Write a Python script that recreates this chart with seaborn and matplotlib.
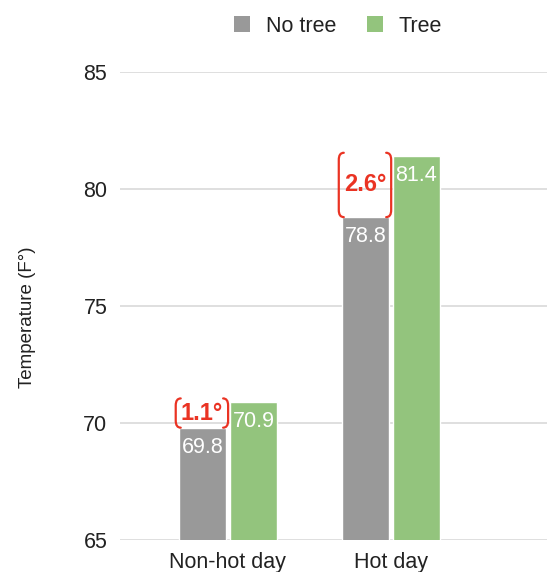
import matplotlib
matplotlib.use("Agg")
import matplotlib.pyplot as plt
from matplotlib.path import Path
from matplotlib.patches import PathPatch
import seaborn as sns
import pandas as pd

# Mean temperatures by day type, with and without tree canopy
days = ["Non-hot day", "Hot day"]
groups = ["No tree", "Tree"]
no_tree = [69.8, 78.8]
tree = [70.9, 81.4]
y_ticks = [65, 70, 75, 80, 85]

colors = {"No tree": "#999999", "Tree": "#93c47d"}
red = "#ea3323"

df = pd.DataFrame({
    "day": days * 2,
    "group": ["No tree"] * len(days) + ["Tree"] * len(days),
    "temp": no_tree + tree,
})

sns.set_theme(style="white")
plt.rcParams["font.family"] = ["Liberation Sans", "DejaVu Sans"]

fig = plt.figure(figsize=(5.47, 5.72), dpi=100)
ax = fig.add_axes([0.219, 0.056, 0.781, 0.818])

sns.barplot(data=df, x="day", y="temp", hue="group", order=days,
            hue_order=groups, palette=colors, width=0.625, gap=0.07,
            saturation=1, ax=ax, legend=False, zorder=2)

ax.set_ylim(65, 85)
ax.set_xlim(-0.663, 1.957)
ax.set_yticks(y_ticks)
ax.yaxis.grid(True, color="#d9d9d9", linewidth=1.2, zorder=0)
ax.set_axisbelow(True)
for s in ax.spines.values():
    s.set_visible(False)
ax.tick_params(axis="both", length=0, labelsize=15.5, colors="#222222")
ax.tick_params(axis="y", pad=9)
ax.tick_params(axis="x", pad=9)
ax.set_xlabel("")
ax.set_ylabel("Temperature (F°)", fontsize=13.5, color="#222222")
ax.yaxis.set_label_coords(-0.195, 0.475)

# value labels inside the top of each bar
for container, vals in zip(ax.containers, [no_tree, tree]):
    for patch, v in zip(container, vals):
        cx = patch.get_x() + patch.get_width() / 2
        ax.annotate(f"{v:.1f}", (cx, v), xytext=(0, -6.5),
                    textcoords="offset points", ha="center", va="top",
                    color="white", fontsize=15.5, zorder=4)

# difference brackets next to the "No tree" bars
px = 1 / 163.0  # one pixel in x data units
for i, (a, b) in enumerate(zip(no_tree, tree)):
    bar = ax.containers[0][i]
    x_left = bar.get_x() - 3 * px
    x_right = bar.get_x() + bar.get_width() + 2 * px
    top = b + 0.15
    bot = a + 0.0
    hook = 5 * px
    r = min(0.3, (top - bot) / 3)
    for x0, sgn in [(x_left, 1), (x_right, -1)]:
        verts = [
            (x0 + sgn * hook, top),
            (x0, top), (x0, top - r),
            (x0, bot + r),
            (x0, bot), (x0 + sgn * hook, bot),
        ]
        codes = [Path.MOVETO, Path.CURVE3, Path.CURVE3, Path.LINETO,
                 Path.CURVE3, Path.CURVE3]
        ax.add_patch(PathPatch(Path(verts, codes), facecolor="none",
                               edgecolor=red, linewidth=1.6, zorder=5,
                               clip_on=False, capstyle="round"))
    ax.text((x_left + x_right) / 2, (top + bot) / 2, f"{b - a:.1f}°",
            ha="center", va="center", color=red, fontsize=17,
            fontweight="bold", zorder=5)

handles = [plt.Rectangle((0, 0), 1, 1, facecolor=colors[g], edgecolor="none")
           for g in groups]
fig.legend(handles, groups, loc="center", bbox_to_anchor=(0.618, 0.954),
           ncol=2, frameon=False, fontsize=15.5, handlelength=0.75,
           handleheight=0.75, handletextpad=0.75, columnspacing=1.4,
           labelcolor="#222222")

fig.savefig("out.png", dpi=100)
